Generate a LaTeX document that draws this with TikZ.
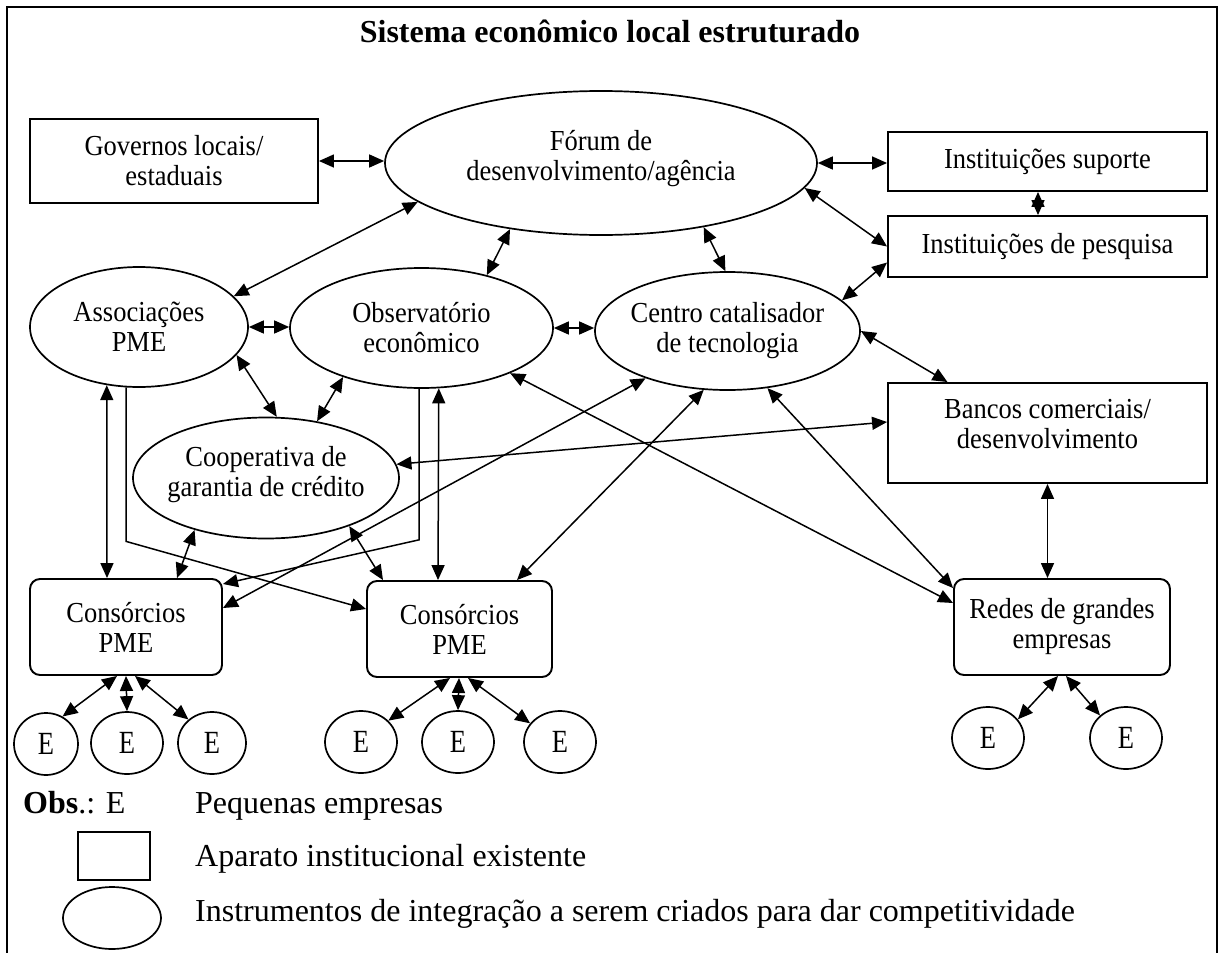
\documentclass[tikz,border=0pt]{standalone}
\usepackage{fontspec}
\setmainfont{Liberation Serif}
% node labels: slightly condensed, taller serif
\newfontfamily\labelfont[FakeStretch=0.914]{Liberation Serif}
\usetikzlibrary{arrows.meta,shapes.geometric,calc}

\newcommand{\tallE}{\scalebox{1}[1.22]{E}}

\begin{document}
\begin{tikzpicture}[x=1pt, y=-1pt,
  txt/.style={font=\labelfont\fontsize{29}{30}\selectfont, align=center, inner sep=0pt},
  lbl/.style={txt},
  box/.style={draw, line width=1.9pt, rectangle, txt},
  rbox/.style={box, rounded corners=10pt},
  oval/.style={draw, line width=1.7pt, ellipse, inner sep=0pt},
  ent/.style={oval, minimum width=68pt, minimum height=62pt, inner sep=0pt,
              font=\fontsize{26.5}{30}\selectfont},
  tip/.tip={Triangle[length=15pt,width=13pt]},
  link/.style={line width=1.5pt, tip-tip},
  feed/.style={line width=1.5pt, -tip},
  legend/.style={font=\fontsize{32}{36}\selectfont, inner sep=0pt, anchor=base west},
]
\useasboundingbox (0,0) rectangle (1221,953);

% outer frame, open at the bottom
\draw[line width=2.2pt] (7,953) -- (7,7) -- (1217,7) -- (1217,953);

\node[inner sep=0pt, anchor=base, font=\fontsize{32}{36}\selectfont\bfseries] (title) at (610,42)
  {Sistema econômico local estruturado};

% institutions and instruments
\node[box, minimum width=288pt, minimum height=84pt] (gov) at (174,161) {Governos locais/\\estaduais};
\node[oval, minimum width=432pt, minimum height=144pt,
      label={[lbl,yshift=4pt]center:{Fórum de\\desenvolvimento/agência}}] (fo) at (601,163) {};
\node[box, minimum width=319pt, minimum height=59pt] (is) at (1047.5,161.5) {Instituições suporte};
\node[box, minimum width=319pt, minimum height=61pt] (ip) at (1047.5,246.5) {Instituições de pesquisa};
\node[oval, minimum width=218pt, minimum height=120pt,
      label={[lbl]center:{Associações\\PME}}] (as) at (139,327) {};
\node[oval, minimum width=263pt, minimum height=120pt,
      label={[lbl]center:{Observatório\\econômico}}] (ob) at (421.5,328) {};
\node[oval, minimum width=265pt, minimum height=118pt,
      label={[lbl]center:{Centro catalisador\\de tecnologia}}] (ce) at (727.5,331) {};
\node[oval, minimum width=266pt, minimum height=121pt,
      label={[lbl,yshift=3pt]center:{Cooperativa de\\garantia de crédito}}] (co) at (266,478) {};
\node[box, minimum width=319pt, minimum height=100pt,
      label={[lbl,yshift=9pt]center:{Bancos comerciais/\\desenvolvimento}}] (ba) at (1047.5,433) {};
\node[rbox, minimum width=192pt, minimum height=96pt] (c1) at (126,627) {Consórcios\\PME};
\node[rbox, minimum width=185pt, minimum height=96pt] (c2) at (459.5,629) {Consórcios\\PME};
\node[rbox, minimum width=216pt, minimum height=96pt] (rd) at (1062,627) {Redes de grandes\\empresas};

% small firms
\node[ent, minimum width=64pt] (e1) at (46,744) {\raisebox{-4pt}{\tallE}};
\node[ent, minimum width=72pt] (e2) at (127,743) {\tallE};
\node[ent] (e3) at (212,743) {\tallE};
\node[ent, minimum width=72pt] (e4) at (361,742) {\tallE};
\node[ent, minimum width=72pt] (e5) at (458,742) {\raisebox{-2pt}{\tallE}};
\node[ent, minimum width=72pt] (e6) at (560,742) {\tallE};
\node[ent, minimum width=72pt] (e7) at (988,738) {\raisebox{-2pt}{\tallE}};
\node[ent, minimum width=72pt] (e8) at (1126,738) {\tallE};

% connections
\draw[link] (gov.east) -- (gov.east -| fo.west);
\draw[link] (fo.east) -- (fo.east -| is.west);
\draw[link] ([xshift=-9.5pt]is.south) -- ([xshift=-9.5pt]ip.north);
\draw[link] (fo.-7) -- (ip.west);
\draw[link] (ce.15) -- ([yshift=-16pt]ip.west);
\draw[link] (fo.192) -- (as.18);
\draw[link] (fo.216) -- (ob.39);
\draw[link] (fo.-32) -- (ce.92);
\draw[link] (as.east) -- (as.east -| ob.west);
\draw[link] (ob.east) -- (ob.east -| ce.west);
\draw[link] (ce.east) -- ([xshift=-100pt]ba.north);
\draw[link] (as.-16) -- (co.80);
\draw[link] (ob.-148) -- (co.48);
\draw[link] (as.-119) -- ([xshift=-19pt]c1.north);
\draw[feed] (as.-102) -- ++(0,154) -- ([yshift=20pt]c2.west);
\draw[feed] ([xshift=-2.5pt]ob.south) -- ++(0,151) -- ([yshift=43pt]c1.east);
\draw[link] (ob.-74.5) -- ([xshift=-21.5pt]c2.north);
\draw[link] (co.-144) -- ([xshift=51pt]c1.north);
\draw[link] (co.-30) -- ([xshift=-76.5pt]c2.north);
\draw[link] ([yshift=11pt]ba.west) -- (co.6);
\draw[link] (ob.-27) -- ([yshift=24pt]rd.west);
\draw[link] ([yshift=19pt]c1.east) -- (ce.-150);
\draw[link] ([xshift=57.5pt]c2.north) -- (ce.-112);
\draw[link] (ce.-55) -- ([yshift=-10pt]rd.north west);
\draw[link] (ba.south) -- (ba.south |- rd.north);

\draw[link] ([xshift=-9pt]c1.south) -- (e1.59);
\draw[link] (c1.south) -- (e2.north);
\draw[link] ([xshift=9pt]c1.south) -- (e3.135);
\draw[link] ([xshift=-9.5pt]c2.south) -- (e4.38);
\draw[link] ([xshift=-0.5pt]c2.south) -- (e5.north);
\draw[link] ([xshift=8.5pt]c2.south) -- (e6.148);
\draw[link] ([xshift=-4pt]rd.south) -- (e7.32);
\draw[link] ([xshift=4pt]rd.south) -- (e8.139);

% legend
\node[legend] (obs) at (23,813) {\textbf{Obs}.: E};
\node[legend] (lg1) at (195,813) {Pequenas empresas};
\node[draw, line width=1.9pt, minimum width=72pt, minimum height=48pt, inner sep=0pt] (lgbox) at (114,856) {};
\node[legend] (lg2) at (195,866) {Aparato institucional existente};
\node[oval, minimum width=98pt, minimum height=62pt] (lgoval) at (112,918) {};
\node[legend] (lg3) at (195,921) {Instrumentos de integração a serem criados para dar competitividade};
\end{tikzpicture}
\end{document}
